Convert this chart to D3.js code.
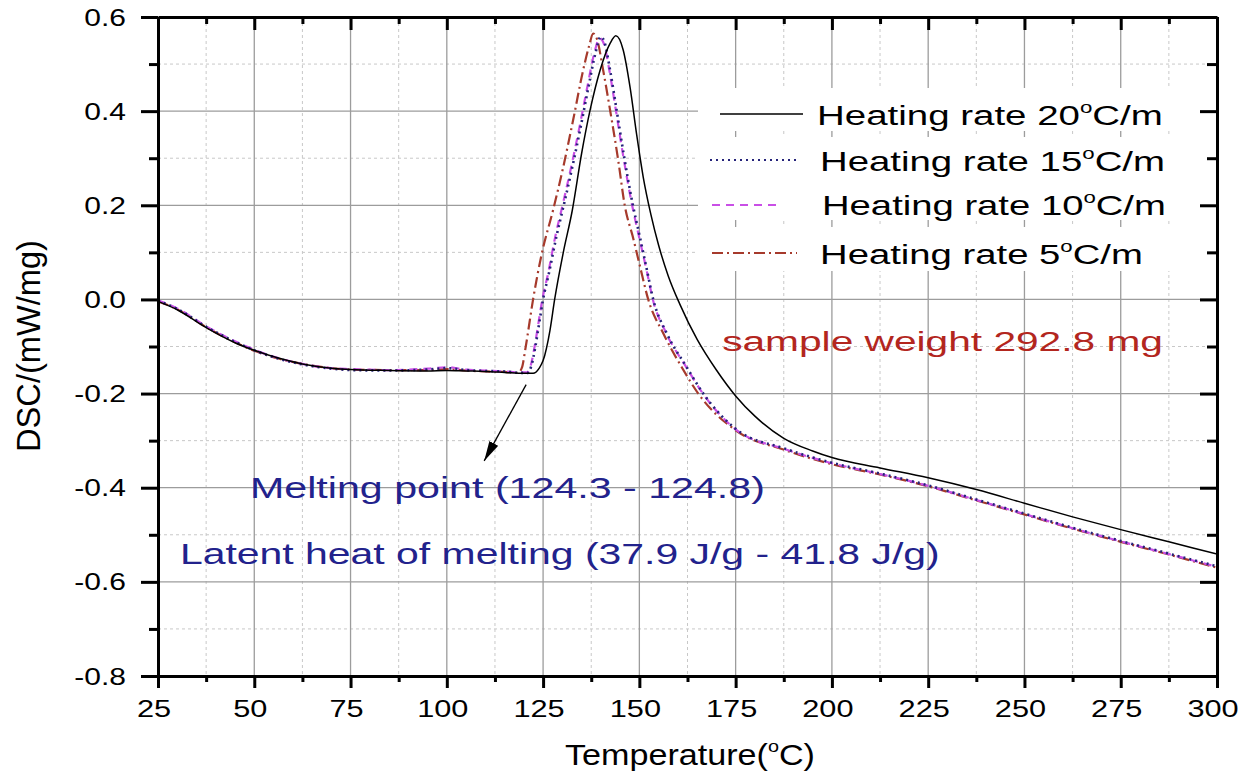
<!DOCTYPE html>
<html>
<head>
<meta charset="utf-8">
<script src="https://cdn.jsdelivr.net/npm/d3@7"></script>
<style>
  body { margin: 0; background: #fff; }
  svg { display: block; }
  text { font-family: Arial, "Liberation Sans", sans-serif; }
</style>
</head>
<body>
<svg id="chart" width="1255" height="778"></svg>
<script>
// tick values
var xTicks = [25, 50, 75, 100, 125, 150, 175, 200, 225, 250, 275, 300];
var xMinor = [37.5, 62.5, 87.5, 112.5, 137.5, 162.5, 187.5, 212.5, 237.5, 262.5, 287.5];
var yTicks = [-0.8, -0.6, -0.4, -0.2, 0.0, 0.2, 0.4, 0.6];
var yMinor = [-0.7, -0.5, -0.3, -0.1, 0.1, 0.3, 0.5];

// heating rate 20 C/m
var temp20 = [25, 30, 37.5, 45, 50, 56, 62.5, 70, 75, 85, 95, 100, 105, 110, 115, 120, 122.4, 124, 125, 126.8, 128, 130.2, 132.6, 135, 137.2, 139.8, 142.4, 143.9, 145.8, 147.6, 149.3, 151, 153, 155, 157.5, 160.5, 165, 170, 175, 180, 187.5, 195, 200, 212.5, 225, 237.5, 250, 262.5, 275, 287.5, 300];
var dsc20 = [-0.004, -0.022, -0.06, -0.092, -0.108, -0.124, -0.137, -0.146, -0.149, -0.151, -0.152, -0.151, -0.152, -0.153, -0.155, -0.157, -0.157, -0.146, -0.13, -0.065, 0.0, 0.098, 0.19, 0.31, 0.402, 0.487, 0.544, 0.56, 0.53, 0.45, 0.35, 0.26, 0.18, 0.115, 0.05, -0.01, -0.085, -0.15, -0.205, -0.248, -0.295, -0.322, -0.336, -0.358, -0.379, -0.404, -0.433, -0.462, -0.489, -0.515, -0.541];

// heating rate 15 C/m
var temp15 = [25, 30, 37.5, 45, 50, 56, 62.5, 70, 75, 85, 95, 100, 105, 110, 115, 119, 121, 122, 123, 124, 125, 126.5, 128.5, 130.5, 132.4, 134.6, 136.8, 138.5, 140, 141, 142.4, 144.1, 145.9, 148.2, 150.2, 151.9, 153.6, 157.1, 162.3, 166.6, 175, 187.8, 200, 212.5, 225, 237.5, 250, 262.5, 275, 287.5, 300];
var dsc15 = [-0.003, -0.02, -0.058, -0.09, -0.108, -0.125, -0.138, -0.147, -0.15, -0.151, -0.149, -0.146, -0.15, -0.152, -0.153, -0.156, -0.156, -0.14, -0.1, -0.05, 0.0, 0.055, 0.135, 0.205, 0.274, 0.36, 0.452, 0.52, 0.558, 0.545, 0.487, 0.402, 0.31, 0.205, 0.13, 0.065, 0.0, -0.072, -0.144, -0.2, -0.275, -0.317, -0.347, -0.37, -0.395, -0.425, -0.455, -0.485, -0.513, -0.54, -0.567];

// heating rate 10 C/m
var temp10 = [25, 30, 37.5, 45, 50, 56, 62.5, 70, 75, 85, 95, 100, 105, 110, 115, 119, 120.8, 121.8, 122.8, 123.8, 124.8, 126.3, 128.2, 130.2, 132.1, 134.3, 136.5, 138.2, 139.7, 140.8, 142.2, 143.9, 145.7, 148, 150, 151.8, 153.5, 157, 162.2, 166.5, 175, 187.8, 200, 212.5, 225, 237.5, 250, 262.5, 275, 287.5, 300];
var dsc10 = [-0.002, -0.019, -0.057, -0.089, -0.107, -0.124, -0.137, -0.146, -0.148, -0.15, -0.147, -0.144, -0.149, -0.151, -0.153, -0.155, -0.155, -0.14, -0.1, -0.05, 0.0, 0.055, 0.135, 0.205, 0.274, 0.36, 0.452, 0.52, 0.555, 0.543, 0.487, 0.402, 0.31, 0.205, 0.13, 0.065, 0.0, -0.072, -0.144, -0.2, -0.276, -0.318, -0.348, -0.371, -0.396, -0.426, -0.456, -0.486, -0.514, -0.541, -0.568];

// heating rate 5 C/m
var temp5 = [25, 30, 37.5, 45, 50, 56, 62.5, 70, 75, 85, 95, 100, 105, 110, 115, 118.5, 119.5, 120.5, 122.4, 124.6, 127.6, 130.2, 132.8, 135.4, 137, 138, 139, 140.6, 142.4, 144.5, 146.2, 148.4, 150.2, 152.3, 156.2, 161, 165.3, 175, 187.8, 200, 212.5, 225, 237.5, 250, 262.5, 275, 287.5, 300];
var dsc5 = [-0.004, -0.021, -0.059, -0.091, -0.109, -0.125, -0.137, -0.146, -0.149, -0.15, -0.15, -0.148, -0.151, -0.153, -0.154, -0.156, -0.145, -0.1, 0.0, 0.095, 0.19, 0.28, 0.381, 0.487, 0.54, 0.565, 0.553, 0.487, 0.402, 0.296, 0.2, 0.13, 0.069, 0.0, -0.072, -0.144, -0.2, -0.278, -0.32, -0.35, -0.372, -0.397, -0.427, -0.457, -0.487, -0.515, -0.542, -0.57];

var rateLabels = ["20", "15", "10", "5"];

var svg = d3.select("#chart");
var pLeft = 158, pRight = 1217, pTop = 17, pBottom = 676;

var x = d3.scaleLinear().domain([25, 300]).range([pLeft, pRight]);
var y = d3.scaleLinear().domain([-0.8, 0.6]).range([pBottom, pTop]);

// text helper: draws text then stretches it to a wanted width
function putText(parent, px, py, parts, size, color, targetW, anchor, sx) {
  var t = parent.append("text").attr("font-size", size).attr("fill", color);
  parts.forEach(function(p) {
    var s = t.append("tspan").text(p.text);
    if (p.sup) s.attr("font-size", size * 0.58).attr("dy", -size * 0.42);
    if (p.after) s.attr("dy", size * 0.42);
  });
  var w = t.node().getBBox().width;
  var k = targetW ? targetW / w : (sx || 1);
  var dx = anchor == "middle" ? -w / 2 : (anchor == "end" ? -w : 0);
  t.attr("x", dx).attr("transform", "translate(" + px + "," + py + ") scale(" + k + ",1)");
  return t;
}

// grid
var grid = svg.append("g");
grid.selectAll(".gxm").data(xMinor).enter().append("line")
  .attr("x1", d => x(d)).attr("x2", d => x(d)).attr("y1", pTop).attr("y2", pBottom)
  .attr("stroke", "#c8c8c8").attr("stroke-width", 1).attr("stroke-dasharray", "3,3");
grid.selectAll(".gym").data(yMinor).enter().append("line")
  .attr("y1", d => y(d)).attr("y2", d => y(d)).attr("x1", pLeft).attr("x2", pRight)
  .attr("stroke", "#c8c8c8").attr("stroke-width", 1).attr("stroke-dasharray", "3,3");
grid.selectAll(".gx").data(xTicks.slice(1, -1)).enter().append("line")
  .attr("x1", d => x(d)).attr("x2", d => x(d)).attr("y1", pTop).attr("y2", pBottom)
  .attr("stroke", "#9c9c9c").attr("stroke-width", 1.3);
grid.selectAll(".gy").data(yTicks.slice(1, -1)).enter().append("line")
  .attr("y1", d => y(d)).attr("y2", d => y(d)).attr("x1", pLeft).attr("x2", pRight)
  .attr("stroke", "#9c9c9c").attr("stroke-width", 1.3);

// legend backgrounds
var legRows = [[88, 131], [137, 183], [183, 220], [227, 271]];
svg.append("g").selectAll("rect").data(legRows).enter().append("rect")
  .attr("x", 698).attr("y", d => d[0]).attr("width", pRight - 698).attr("height", d => d[1] - d[0])
  .attr("fill", "#fff");

// curves
var series = [
  {t: temp5, v: dsc5, color: "#a63a2c", dash: "11,4,2,4", w: 2.2},
  {t: temp10, v: dsc10, color: "#c94fe6", dash: "8,6", w: 2.2},
  {t: temp15, v: dsc15, color: "#25237a", dash: "2,4", w: 2.6},
  {t: temp20, v: dsc20, color: "#000", dash: null, w: 1.5}
];
var line = d3.line().x(d => x(d[0])).y(d => y(d[1])).curve(d3.curveMonotoneX);
svg.append("clipPath").attr("id", "clip").append("rect")
  .attr("x", pLeft).attr("y", pTop).attr("width", pRight - pLeft).attr("height", pBottom - pTop);
var curves = svg.append("g").attr("clip-path", "url(#clip)");
series.forEach(function(s) {
  curves.append("path")
    .attr("d", line(s.t.map((t, i) => [t, s.v[i]])))
    .attr("fill", "none").attr("stroke", s.color).attr("stroke-width", s.w)
    .attr("stroke-dasharray", s.dash);
});

// legend
var legSamples = [
  {x1: 720, x2: 803, y: 114, ty: 125, tx: 817, tw: 346},
  {x1: 710, x2: 797, y: 160, ty: 171, tx: 820, tw: 345},
  {x1: 712, x2: 780, y: 205, ty: 215, tx: 822, tw: 344},
  {x1: 712, x2: 797, y: 253, ty: 264, tx: 820, tw: 323}
];
var legOrder = [3, 2, 1, 0];
legSamples.forEach(function(L, i) {
  var s = series[legOrder[i]];
  svg.append("line").attr("x1", L.x1).attr("x2", L.x2).attr("y1", L.y).attr("y2", L.y)
    .attr("stroke", s.color).attr("stroke-width", i == 0 ? 1.3 : 1.8).attr("stroke-dasharray", s.dash);
  putText(svg, L.tx, L.ty, [{text: "Heating rate " + rateLabels[i]}, {text: "o", sup: true}, {text: "C/m", after: true}], 28, "#000", L.tw, "start");
});

// annotations
putText(svg, x(171.5), y(-0.11), [{text: "sample weight 292.8 mg"}], 28, "#b3261e", 441, "start");
putText(svg, x(48.9), y(-0.421), [{text: "Melting point (124.3 - 124.8)"}], 30, "#22228c", 515, "start");
putText(svg, x(30.7), y(-0.562), [{text: "Latent heat of melting (37.9 J/g - 41.8 J/g)"}], 30, "#22228c", 760, "start");

svg.append("defs").append("marker").attr("id", "arr")
  .attr("viewBox", "0 0 20 10").attr("refX", 20).attr("refY", 5)
  .attr("markerUnits", "userSpaceOnUse").attr("markerWidth", 20).attr("markerHeight", 10)
  .attr("orient", "auto")
  .append("path").attr("d", "M0,0 L20,5 L0,10 Z").attr("fill", "#000");
svg.append("line")
  .attr("x1", x(120.6)).attr("y1", y(-0.181)).attr("x2", x(109.7)).attr("y2", y(-0.343))
  .attr("stroke", "#000").attr("stroke-width", 1.3).attr("marker-end", "url(#arr)");

// axes
function styleAxis(g, w) {
  g.select(".domain").attr("stroke", "#000").attr("stroke-width", w);
  g.selectAll(".tick line").attr("stroke", "#000").attr("stroke-width", 3);
  g.selectAll("text").remove();
}
svg.append("g").attr("transform", "translate(0," + pBottom + ")")
  .call(d3.axisBottom(x).tickValues(xMinor).tickSize(6).tickSizeOuter(0)).call(styleAxis, 0);
svg.append("g").attr("transform", "translate(0," + pBottom + ")")
  .call(d3.axisBottom(x).tickValues(xTicks).tickSize(12).tickSizeOuter(0)).call(styleAxis, 3);
svg.append("g").attr("transform", "translate(0," + pTop + ")")
  .call(d3.axisTop(x).tickValues(xMinor).tickSize(-7).tickSizeOuter(0)).call(styleAxis, 0);
svg.append("g").attr("transform", "translate(0," + pTop + ")")
  .call(d3.axisTop(x).tickValues(xTicks).tickSize(-13).tickSizeOuter(0)).call(styleAxis, 3);
svg.append("g").attr("transform", "translate(" + pLeft + ",0)")
  .call(d3.axisLeft(y).tickValues(yMinor).tickSize(9).tickSizeOuter(0)).call(styleAxis, 0);
svg.append("g").attr("transform", "translate(" + pLeft + ",0)")
  .call(d3.axisLeft(y).tickValues(yTicks).tickSize(17).tickSizeOuter(0)).call(styleAxis, 3);
svg.append("g").attr("transform", "translate(" + pRight + ",0)")
  .call(d3.axisRight(y).tickValues(yMinor).tickSize(-10).tickSizeOuter(0)).call(styleAxis, 0);
svg.append("g").attr("transform", "translate(" + pRight + ",0)")
  .call(d3.axisRight(y).tickValues(yTicks).tickSize(-17).tickSizeOuter(0)).call(styleAxis, 3);

// tick labels
xTicks.forEach(function(t) {
  putText(svg, x(t) - 4, 717, [{text: String(t)}], 24, "#000", null, "middle", 1.28);
});
yTicks.forEach(function(v) {
  putText(svg, 126, y(v) + 8.5, [{text: v.toFixed(1)}], 24, "#000", null, "end", 1.25);
});

// axis titles
putText(svg, 690, 765, [{text: "Temperature("}, {text: "o", sup: true}, {text: "C)", after: true}], 30, "#000", 250, "middle");
var yt = svg.append("text").attr("font-size", 26).attr("fill", "#000").attr("text-anchor", "middle").text("DSC/(mW/mg)");
var yw = yt.node().getBBox().width;
yt.attr("transform", "translate(40,346) scale(1.25,1) rotate(-90) scale(" + (212 / yw) + ",1)");
</script>
</body>
</html>
